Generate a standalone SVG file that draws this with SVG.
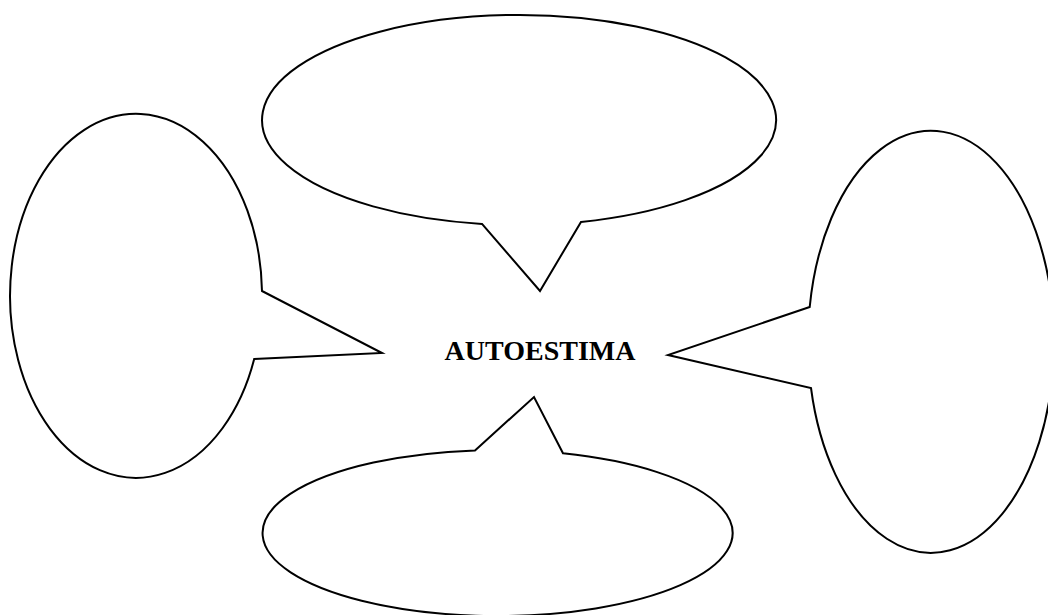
<svg xmlns="http://www.w3.org/2000/svg" width="1048" height="615" viewBox="0 0 1048 615">
<style>
.bubble{fill:#fff;stroke:#000;stroke-width:2;stroke-linejoin:miter}
.label{font-family:"Liberation Serif","Times New Roman",serif;font-weight:bold;font-size:28px;fill:#000}
</style>
<rect width="1048" height="615" fill="#fff"/>
<g id="connectors"></g>
<g id="bubble-top"><path class="bubble" d="M 482,223.9 L 540,291 L 581,221.9 A 257 105 0 1 0 482,223.9 Z"/></g>
<g id="bubble-left"><path class="bubble" d="M 262,291 L 382,353 L 254.2,359 A 126 182 0 1 1 262,291 Z"/></g>
<g id="bubble-right"><path class="bubble" d="M 809.7,307 L 668,355 L 811,388 A 123 211 0 1 0 809.7,307 Z"/></g>
<g id="bubble-bottom"><path class="bubble" d="M 475,450.4 L 534,397 L 563,453.3 A 235 83 0 1 1 475,450.4 Z"/></g>
<g id="center"><text class="label" x="540" y="360" text-anchor="middle">AUTOESTIMA</text></g>
</svg>
